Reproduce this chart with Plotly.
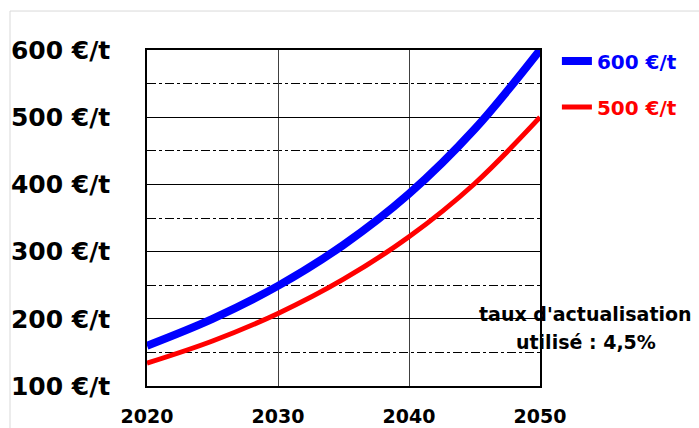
import plotly.graph_objects as go

# Carbon value trajectories (€/t) discounted at 4.5 %
years = [2020, 2025, 2030, 2035, 2040, 2045, 2050]
value_600 = [160, 200, 249, 310, 386, 482, 600]
value_500 = [134, 167, 208, 259, 322, 401, 500]

y_ticks = [100, 200, 300, 400, 500, 600]
y_tick_text = ["100 €/t", "200 €/t", "300 €/t", "400 €/t", "500 €/t", "600 €/t"]
x_ticks = [2020, 2030, 2040, 2050]
x_tick_text = ["2020", "2030", "2040", "2050"]

FONT = "DejaVu Sans"

fig = go.Figure()
fig.add_trace(go.Scatter(
    x=years, y=value_600, name="600 €/t", mode="lines",
    line=dict(color="#0000ff", width=8, shape="spline"),
    legend="legend", showlegend=True,
))
fig.add_trace(go.Scatter(
    x=years, y=value_500, name="500 €/t", mode="lines",
    line=dict(color="#ff0000", width=5, shape="spline"),
    legend="legend2", showlegend=True,
))

fig.update_layout(
    width=699, height=428,
    margin=dict(l=147, r=159, t=50, b=42),
    paper_bgcolor="white", plot_bgcolor="white",
    font=dict(family=FONT, color="black"),
    showlegend=True,
    legend=dict(x=1.043, y=0.967, xanchor="left", yanchor="middle",
                font=dict(family=FONT, size=20, color="#0000ff", weight="bold"),
                itemwidth=30, bgcolor="rgba(0,0,0,0)", borderwidth=0),
    legend2=dict(x=1.043, y=0.830, xanchor="left", yanchor="middle",
                 font=dict(family=FONT, size=20, color="#ff0000", weight="bold"),
                 itemwidth=30, bgcolor="rgba(0,0,0,0)", borderwidth=0),
    shapes=[dict(type="rect", xref="paper", yref="paper",
                 x0=-0.3486, y0=-0.6, x1=1.7, y1=1.116,
                 line=dict(color="#d9d9d9", width=1), layer="below")],
    annotations=[
        dict(text="<b>taux d'actualisation</b>", x=1.117, y=(386 - 314) / 336,
             xref="paper", yref="paper", showarrow=False,
             xanchor="center", yanchor="middle",
             font=dict(family=FONT, size=19, color="black")),
        dict(text="<b>utilisé : 4,5%</b>", x=1.117, y=(386 - 342) / 336,
             xref="paper", yref="paper", showarrow=False,
             xanchor="center", yanchor="middle",
             font=dict(family=FONT, size=19, color="black")),
    ],
)

fig.update_xaxes(
    range=[2020, 2050], tickvals=x_ticks, ticktext=x_tick_text,
    showgrid=True, gridcolor="#404040", gridwidth=1,
    showline=True, linecolor="black", linewidth=1.5, mirror=True,
    ticks="", ticklabelstandoff=12, zeroline=False, automargin=False,
    tickfont=dict(family=FONT, size=19, color="black", weight="bold"),
)
fig.update_yaxes(
    range=[100, 600], tickvals=y_ticks, ticktext=y_tick_text,
    showgrid=True, gridcolor="black", gridwidth=1,
    minor=dict(tick0=100, dtick=50, showgrid=True, gridcolor="black",
               gridwidth=1, griddash="dashdot"),
    showline=True, linecolor="black", linewidth=1.5, mirror=True,
    ticks="", ticklabelstandoff=30, zeroline=False, automargin=False,
    tickfont=dict(family=FONT, size=25, color="black", weight="bold"),
)

fig.write_html("out.html")
